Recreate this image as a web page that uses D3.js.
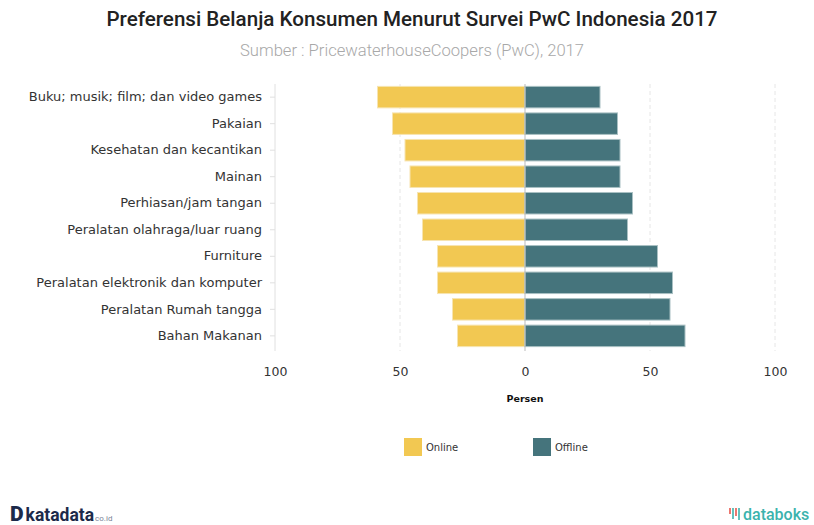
<!DOCTYPE html>
<html>
<head>
<meta charset="utf-8">
<script src="https://cdn.jsdelivr.net/npm/d3@7"></script>
<style>
  body { margin: 0; background: #fff; }
  svg { display: block; }
  .axis text { font-family: "DejaVu Sans", Verdana, sans-serif; }
</style>
</head>
<body>
<svg id="chart"></svg>
<script>
const categories = [
  'Buku; musik; film; dan video games',
  'Pakaian',
  'Kesehatan dan kecantikan',
  'Mainan',
  'Perhiasan/jam tangan',
  'Peralatan olahraga/luar ruang',
  'Furniture',
  'Peralatan elektronik dan komputer',
  'Peralatan Rumah tangga',
  'Bahan Makanan',
];
const onlineValues = [59, 53, 48, 46, 43, 41, 35, 35, 29, 27];
const offlineValues = [30, 37, 38, 38, 43, 41, 53, 59, 58, 64];
const xTicks = [-100, -50, 0, 50, 100];
const seriesNames = ['Online', 'Offline'];
const seriesColors = ['#f2c852', '#45747c'];

const width = 814;
const height = 525;
const plot = { left: 275, right: 775, top: 84, bottom: 349 };

const svg = d3.select('#chart')
  .attr('width', width)
  .attr('height', height);

// header
svg.append('text')
  .attr('x', 412)
  .attr('y', 26)
  .attr('text-anchor', 'middle')
  .style('font-family', 'Roboto, sans-serif')
  .style('font-weight', 500)
  .style('font-size', '20.6px')
  .style('fill', '#222')
  .text('Preferensi Belanja Konsumen Menurut Survei PwC Indonesia 2017');

svg.append('text')
  .attr('x', 412)
  .attr('y', 56)
  .attr('text-anchor', 'middle')
  .style('font-family', 'Roboto, sans-serif')
  .style('font-weight', 300)
  .style('font-size', '16.6px')
  .style('fill', '#a8a8a8')
  .text('Sumber : PricewaterhouseCoopers (PwC), 2017');

const xScale = d3.scaleLinear()
  .domain([-100, 100])
  .range([plot.left, plot.right]);

const yScale = d3.scaleBand()
  .domain(categories)
  .range([plot.top, plot.bottom])
  .paddingInner(0.19)
  .paddingOuter(0.09);

// grid lines
svg.append('g')
  .selectAll('line')
  .data(xTicks.filter((d) => d !== 0 && d !== -100))
  .join('line')
  .attr('x1', (d) => xScale(d))
  .attr('x2', (d) => xScale(d))
  .attr('y1', plot.top)
  .attr('y2', plot.bottom + 2)
  .attr('stroke', '#e6e6e6')
  .attr('stroke-dasharray', '4,3');

// y axis
const yAxis = d3.axisLeft(yScale)
  .tickSize(5)
  .tickPadding(8)
  .tickSizeOuter(0);

const yAxisG = svg.append('g')
  .attr('class', 'axis y-axis')
  .attr('transform', `translate(${plot.left},0)`)
  .call(yAxis);

yAxisG.select('.domain')
  .attr('stroke', '#e0e0e0')
  .attr('d', `M0,${plot.top}V${plot.bottom + 2}`);
yAxisG.selectAll('.tick line').attr('stroke', '#e0e0e0');
yAxisG.selectAll('.tick text')
  .style('font-size', '13px')
  .style('fill', '#333');

// bars
const rows = categories.map((c, i) => ({ cat: c, online: onlineValues[i], offline: offlineValues[i] }));

svg.append('g')
  .selectAll('rect')
  .data(rows)
  .join('rect')
  .attr('x', (d) => xScale(-d.online))
  .attr('y', (d) => yScale(d.cat))
  .attr('width', (d) => xScale(0) - xScale(-d.online))
  .attr('height', yScale.bandwidth())
  .attr('fill', seriesColors[0])
  .attr('stroke', '#f7e4b0')
  .attr('stroke-width', 1);

svg.append('g')
  .selectAll('rect')
  .data(rows)
  .join('rect')
  .attr('x', xScale(0))
  .attr('y', (d) => yScale(d.cat))
  .attr('width', (d) => xScale(d.offline) - xScale(0))
  .attr('height', yScale.bandwidth())
  .attr('fill', seriesColors[1])
  .attr('stroke', '#a9c0c3')
  .attr('stroke-width', 1);

// zero line
svg.append('line')
  .attr('x1', xScale(0))
  .attr('x2', xScale(0))
  .attr('y1', plot.top)
  .attr('y2', plot.bottom + 2)
  .attr('stroke', '#bbb')
  .attr('stroke-width', 1);

// x axis
const xAxis = d3.axisBottom(xScale)
  .tickValues(xTicks)
  .tickSize(0)
  .tickPadding(0)
  .tickFormat((d) => Math.abs(d));

const xAxisG = svg.append('g')
  .attr('class', 'axis x-axis')
  .attr('transform', `translate(0,${367})`)
  .call(xAxis);

xAxisG.select('.domain').remove();
xAxisG.selectAll('.tick text')
  .style('font-size', '12.5px')
  .style('fill', '#333');

svg.append('text')
  .attr('x', xScale(0))
  .attr('y', 402)
  .attr('text-anchor', 'middle')
  .style('font-family', '"DejaVu Sans", Verdana, sans-serif')
  .style('font-weight', 'bold')
  .style('font-size', '9.5px')
  .style('fill', '#111')
  .text('Persen');

// legend
const legendX = [404, 533];
const legend = svg.append('g')
  .selectAll('g')
  .data(seriesNames)
  .join('g')
  .attr('transform', (d, i) => `translate(${legendX[i]},438)`);

legend.append('rect')
  .attr('width', 18)
  .attr('height', 18)
  .attr('fill', (d, i) => seriesColors[i]);

legend.append('text')
  .attr('x', 22)
  .attr('y', 9)
  .attr('dy', '0.35em')
  .style('font-family', '"DejaVu Sans", Verdana, sans-serif')
  .style('font-size', '10px')
  .style('fill', '#333')
  .text((d) => d);

// footer logos
const kata = svg.append('text')
  .attr('x', 10)
  .attr('y', 521)
  .style('font-family', 'Roboto, sans-serif')
  .style('fill', '#1c2a4a');
kata.append('tspan').style('font-weight', 900).style('font-size', '21px').text('D');
kata.append('tspan').attr('dx', 2).style('font-weight', 700).style('font-size', '17.5px').text('katadata');
kata.append('tspan').attr('dx', 1).style('font-size', '8px').style('fill', '#7a8396').text('co.id');

const iconX = [730, 733, 736, 739];
const iconH = [6, 11, 8, 12];
svg.append('g')
  .selectAll('line')
  .data(iconX)
  .join('line')
  .attr('x1', (d) => d)
  .attr('x2', (d) => d)
  .attr('y1', 508)
  .attr('y2', (d, i) => 508 + iconH[i])
  .attr('stroke', (d, i) => (i % 2 === 0 ? '#e8564b' : '#3bb3ad'))
  .attr('stroke-width', 1.6);

svg.append('text')
  .attr('x', 743)
  .attr('y', 520)
  .style('font-family', 'Roboto, sans-serif')
  .style('font-weight', 500)
  .style('font-size', '16px')
  .style('fill', '#3bb3ad')
  .text('databoks');
</script>
</body>
</html>
